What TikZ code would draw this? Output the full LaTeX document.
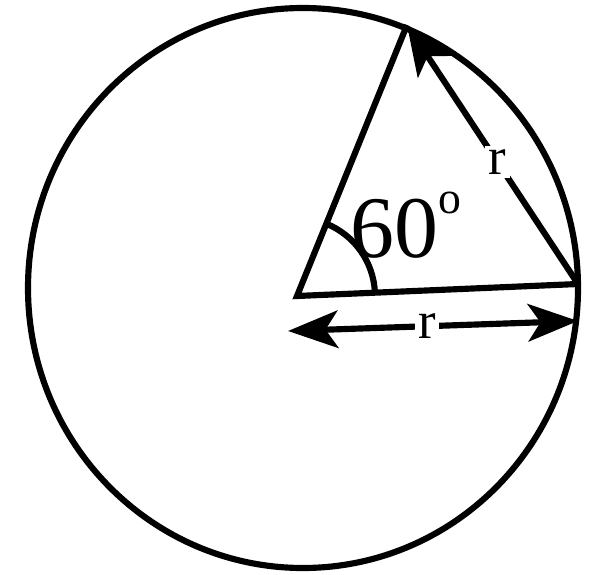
\documentclass[tikz,border=0pt]{standalone}
\usepackage{fontspec}
\setmainfont{Liberation Serif}
\usetikzlibrary{arrows.meta, calc}

\begin{document}
\begin{tikzpicture}[
  thick line/.style={line width=3.5pt},
  arr/.style={line width=3.5pt, -{Stealth[length=10mm, width=8mm, inset=2.5mm]}},
  darr/.style={line width=3.5pt, {Stealth[length=10mm, width=7.5mm, inset=2.5mm]}-{Stealth[length=10mm, width=7.5mm, inset=2.5mm]}},
  rlabel/.style={fill=white, inner sep=2pt, font=\fontsize{30}{32}\selectfont}
]
  \useasboundingbox (0,0) rectangle (11.98,11.48);

  % circle and the two radii
  \coordinate (M) at (6.06,5.72);
  \draw[thick line] (M) ellipse [x radius=5.5, y radius=5.6];

  \coordinate (O) at (5.94,5.56);
  \coordinate (A) at (11.56,5.8);
  \coordinate (B) at (8.14,10.98);
  \draw[thick line, line join=miter] (B) -- (O) -- (A);

  % chord with label
  \draw[arr] (A) -- node[rlabel, pos=0.47] (rs) {r} (B);

  % angle mark
  \draw[thick line] ($(O)+(2.4:1.56)$) arc[start angle=2.4, end angle=67.9, radius=1.56];
  \node[font=\fontsize{50}{52}\selectfont, inner sep=0pt] (ang) at (8.12,6.98)
    {60\raisebox{0.5em}{\fontsize{26}{26}\selectfont o}};

  % radius along the bottom
  \coordinate (L) at (5.76,4.86);
  \coordinate (R) at (11.56,5.06);
  \draw[darr] (L) -- node[rlabel, pos=0.48] (rb) {r} (R);
\end{tikzpicture}
\end{document}
